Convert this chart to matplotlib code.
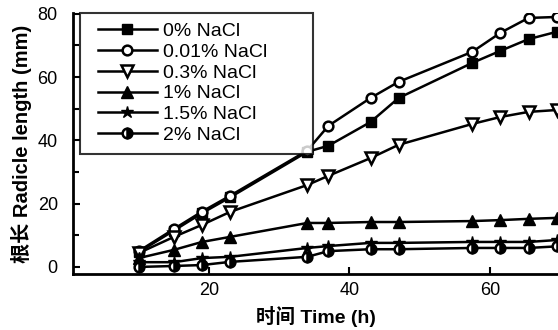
import numpy as np
from matplotlib import pyplot as plt
from matplotlib.lines import Line2D
from matplotlib.legend_handler import HandlerLine2D

# font: Arial-like for latin, Noto CJK for chinese
plt.rcParams['font.family'] = ['Liberation Sans', 'Noto Sans CJK SC']
plt.rcParams['font.size'] = 13

# waktu pengamatan (jam)
time = [10, 15, 19, 23, 34, 37, 43, 47, 57.5, 61.5, 65.5, 69.5]

# panjang akar (mm) untuk tiap konsentrasi NaCl
nacl_0 = [4.7, 11.5, 17.0, 22.0, 36.4, 38.3, 45.8, 53.4, 64.5, 68.3, 72.0, 74.3]
nacl_001 = [5.0, 12.0, 17.5, 22.5, 36.8, 44.6, 53.4, 58.5, 68.0, 74.0, 78.7, 79.0]
nacl_03 = [4.4, 9.5, 13.3, 17.4, 25.9, 28.8, 34.4, 38.6, 45.2, 47.4, 49.0, 49.6]
nacl_1 = [2.8, 5.4, 7.9, 9.5, 13.9, 13.9, 14.2, 14.2, 14.5, 14.8, 15.2, 15.5]
nacl_15 = [1.5, 1.5, 2.8, 3.2, 6.0, 6.6, 7.6, 7.6, 7.9, 7.9, 7.9, 8.5]
nacl_2 = [0.0, 0.3, 0.6, 1.6, 3.2, 5.0, 5.6, 5.6, 6.0, 6.0, 6.0, 6.5]

labels = ['0% NaCl', '0.01% NaCl', '0.3% NaCl', '1% NaCl', '1.5% NaCl', '2% NaCl']

fig = plt.figure(figsize=(5.58, 3.30), dpi=100)
ax = fig.add_axes([0.131, 0.170, 0.869, 0.791])

lw = 1.8
ms = 7
ax.plot(time, nacl_0, '-s', color='black', lw=lw, ms=ms, label=labels[0])
ax.plot(time, nacl_001, '-o', color='black', mfc='white', mew=1.8, lw=lw, ms=ms, label=labels[1])
ax.plot(time, nacl_03, '-v', color='black', mfc='white', mew=1.8, lw=lw, ms=ms + 1, label=labels[2])
ax.plot(time, nacl_1, '-^', color='black', lw=lw, ms=ms + 1, label=labels[3])
ax.plot(time, nacl_15, '-*', color='black', lw=lw, ms=ms + 2, label=labels[4])
ax.plot(time, nacl_2, '-o', color='black', mfc='black', mfcalt='white', fillstyle='right',
        mew=1.8, lw=lw, ms=ms, label=labels[5])

ax.set_xlim(0.64, 69.7)
ax.set_ylim(-2.2, 80.3)
ax.set_xticks([20, 40, 60])
ax.set_yticks([0, 20, 40, 60, 80])
ax.set_yticks([10, 30, 50, 70], minor=True)
ax.tick_params(axis='both', direction='in', width=1.5, length=5)
ax.tick_params(axis='y', which='minor', direction='in', width=1.5, length=4)
ax.tick_params(axis='y', pad=11)
ax.tick_params(axis='x', pad=6)

for s in ['top', 'right']:
    ax.spines[s].set_visible(False)
for s in ['left', 'bottom']:
    ax.spines[s].set_linewidth(2)

ax.set_xlabel('时间 Time (h)', fontsize=14, fontweight='bold', labelpad=5)
ax.set_ylabel('根长 Radicle length (mm)', fontsize=14.5, fontweight='bold', labelpad=4)

# legenda dengan kotak yang lebih lebar dari teks
leg = ax.legend(loc='upper left', bbox_to_anchor=(0.0144, 0.0, 0.48, 1.0), mode='expand',
                frameon=True, fancybox=False, edgecolor='black', handlelength=3.47,
                handletextpad=0.3, labelspacing=0.16, borderpad=0.5, borderaxespad=0,
                fontsize=14, handler_map={Line2D: HandlerLine2D(xpad=0.4)})
leg.get_frame().set_linewidth(1.5)

plt.savefig('out.png', dpi=100)
